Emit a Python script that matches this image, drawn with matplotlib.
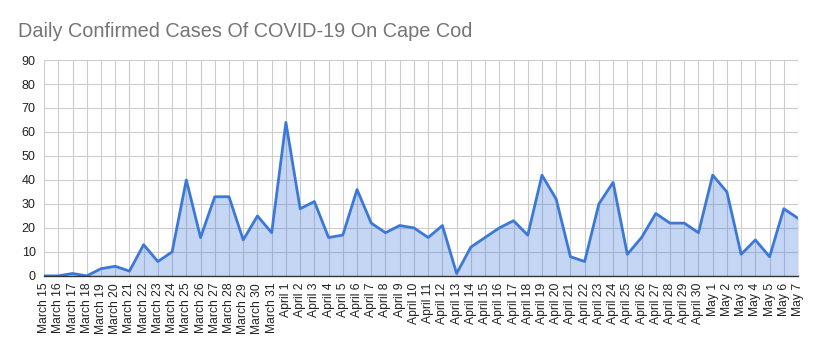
import matplotlib
matplotlib.use("Agg")
import matplotlib.pyplot as plt

plt.rcParams['font.family'] = ['Liberation Sans', 'DejaVu Sans']

dates = ["March %d" % d for d in range(15, 32)] + \
        ["April %d" % d for d in range(1, 31)] + \
        ["May %d" % d for d in range(1, 8)]

cases = [0, 0, 1, 0, 3, 4, 2, 13, 6, 10, 40, 16, 33, 33, 15, 25, 18,
         64, 28, 31, 16, 17, 36, 22, 18, 21, 20, 16, 21, 1, 12, 16, 20, 23, 17, 42, 32,
         8, 6, 30, 39, 9, 16, 26, 22, 22, 18,
         42, 35, 9, 15, 8, 28, 24]

yticks = list(range(0, 91, 10))

fig = plt.figure(figsize=(8.16, 3.51), dpi=100)
ax = fig.add_axes([0.054, 0.214, 0.924, 0.615])

x = range(len(cases))
ax.fill_between(x, cases, 0, color="#3c78d8", alpha=0.3, linewidth=0, zorder=2)
ax.plot(x, cases, color="#3c78d8", lw=2, zorder=3)

ax.set_xlim(0, len(cases) - 1)
ax.set_ylim(0, 90)
ax.set_yticks(yticks)
ax.set_xticks(list(x))
ax.set_xticklabels(dates, rotation=90, fontsize=8.7, color="#222222")
ax.tick_params(axis="y", labelsize=9, colors="#222222", length=0, pad=6)
ax.tick_params(axis="x", length=0, pad=5)
ax.grid(True, color="#cccccc", lw=0.8, zorder=0)
ax.set_axisbelow(True)
for s in ["top", "right", "left"]:
    ax.spines[s].set_visible(False)
ax.spines["bottom"].set_color("#333333")
ax.spines["bottom"].set_linewidth(1)
ax.spines["bottom"].set_zorder(4)

fig.text(0.022, 0.91, "Daily Confirmed Cases Of COVID-19 On Cape Cod",
         fontsize=14.3, color="#757575", va="center", ha="left")

fig.savefig("out.png", dpi=100)
